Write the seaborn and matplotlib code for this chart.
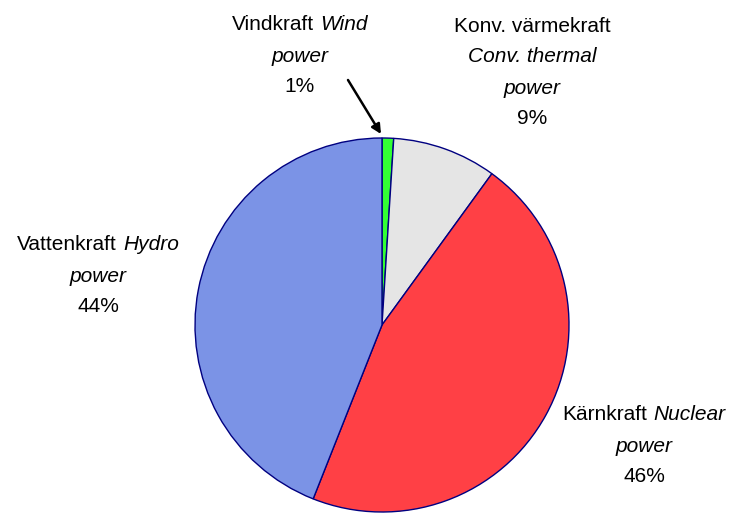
import matplotlib
matplotlib.use("Agg")
import matplotlib.pyplot as plt
import seaborn as sns

# electricity production by source, share in percent (clockwise from top)
sources_sv = ["Vindkraft", "Konv. värmekraft", "Kärnkraft", "Vattenkraft"]
sources_en = ["Wind power", "Conv. thermal power", "Nuclear power", "Hydro power"]
shares = [1, 9, 46, 44]
colors = ["#33ff33", "#e5e5e5", "#ff4045", "#7b93e6"]

W, H = 735, 514


def line_of_parts(ax, renderer, x, y, parts, size=15):
    # parts: list of (text, style); drawn as one centred line
    objs = [ax.text(0, y, t, style=s, fontsize=size, va="center", ha="left",
                    color="black", family="Liberation Sans") for t, s in parts]
    inv = ax.transData.inverted()
    widths = []
    for o in objs:
        bb = o.get_window_extent(renderer)
        widths.append(inv.transform((bb.x1, 0))[0] - inv.transform((bb.x0, 0))[0])
    space = 6
    total = sum(widths) + space * (len(objs) - 1)
    cur = x - total / 2
    for o, w in zip(objs, widths):
        o.set_x(cur)
        cur += w + space


sns.set_theme(style="white")
fig = plt.figure(figsize=(W / 100, H / 100), dpi=100)
ax = fig.add_axes([0, 0, 1, 1])

ax.pie(shares, colors=colors, startangle=90, counterclock=False,
       center=(382, H - 325), radius=187,
       wedgeprops=dict(edgecolor="#000080", linewidth=1.0))
ax.set_xlim(0, W)
ax.set_ylim(0, H)
ax.set_aspect("auto")
ax.axis("off")

fig.canvas.draw()
r = fig.canvas.get_renderer()

# label blocks: centre x, line centres in px from the top
wind_en = sources_en[0].split(" ")
line_of_parts(ax, r, 300, H - 25, [(sources_sv[0], "normal"), (wind_en[0], "italic")])
line_of_parts(ax, r, 300, H - 56, [(wind_en[1], "italic")])
line_of_parts(ax, r, 300, H - 87, [(f"{shares[0]}%", "normal")])

line_of_parts(ax, r, 532, H - 26, [(sources_sv[1], "normal")])
line_of_parts(ax, r, 532, H - 57, [("Conv. thermal", "italic")])
line_of_parts(ax, r, 532, H - 88, [("power", "italic")])
line_of_parts(ax, r, 532, H - 118, [(f"{shares[1]}%", "normal")])

nuc_en = sources_en[2].split(" ")
line_of_parts(ax, r, 644, H - 415, [(sources_sv[2], "normal"), (nuc_en[0], "italic")])
line_of_parts(ax, r, 644, H - 446, [(nuc_en[1], "italic")])
line_of_parts(ax, r, 644, H - 476, [(f"{shares[2]}%", "normal")])

hyd_en = sources_en[3].split(" ")
line_of_parts(ax, r, 98, H - 245, [(sources_sv[3], "normal"), (hyd_en[0], "italic")])
line_of_parts(ax, r, 98, H - 276, [(hyd_en[1], "italic")])
line_of_parts(ax, r, 98, H - 306, [(f"{shares[3]}%", "normal")])

ax.annotate("", xy=(381, H - 134), xytext=(348, H - 80),
            arrowprops=dict(arrowstyle="-|>", color="black", lw=1.8,
                            mutation_scale=14, shrinkA=0, shrinkB=0))

fig.savefig("out.png", dpi=100)
